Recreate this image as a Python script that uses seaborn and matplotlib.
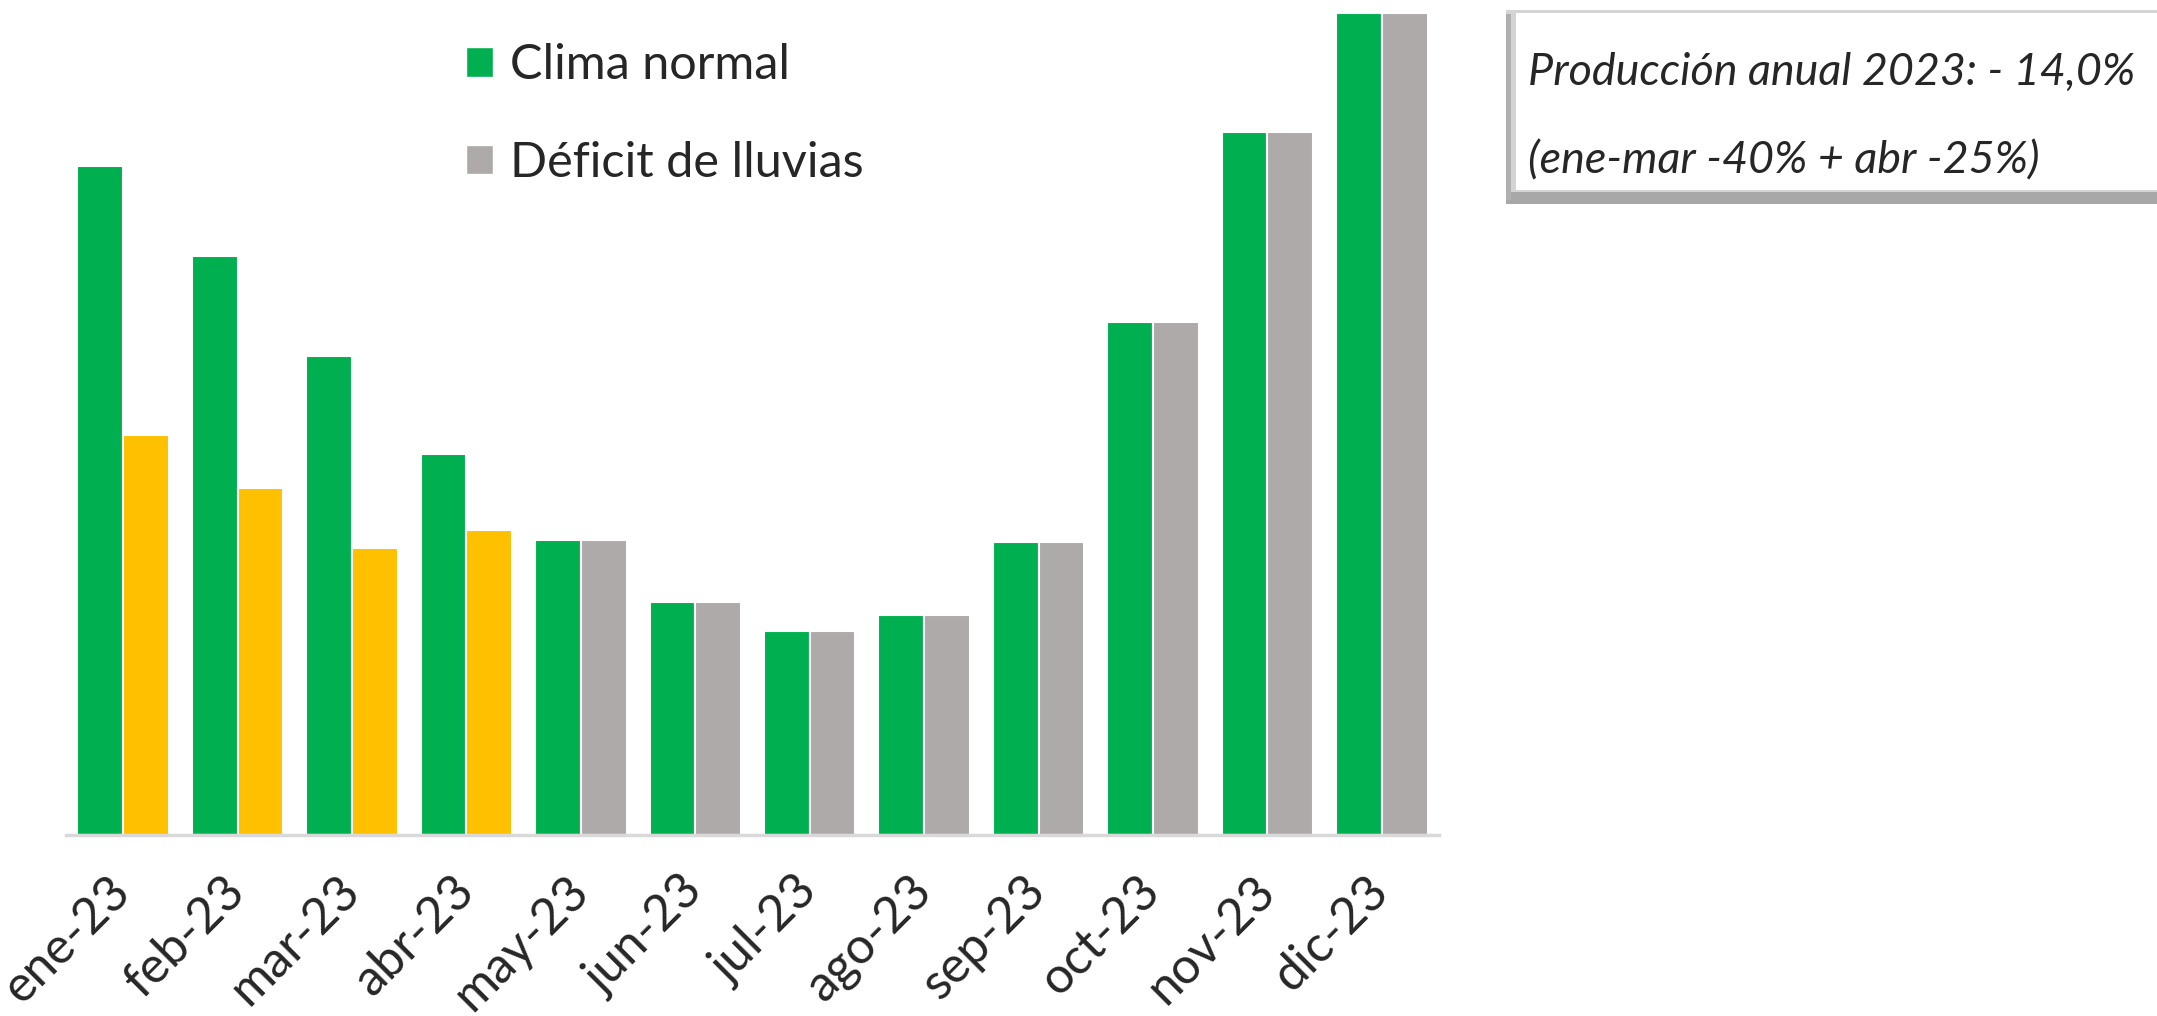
import numpy as np
import pandas as pd
import matplotlib
matplotlib.use('Agg')
import matplotlib.pyplot as plt
import seaborn as sns
from matplotlib.patches import Patch, Rectangle

# datos (unidades relativas)
meses = ['ene-23', 'feb-23', 'mar-23', 'abr-23', 'may-23', 'jun-23',
         'jul-23', 'ago-23', 'sep-23', 'oct-23', 'nov-23', 'dic-23']
clima_normal = [669, 579, 479, 381, 295, 233, 204, 220, 293, 513, 703, 822]
deficit_lluvias = [400, 347, 287, 305, 295, 233, 204, 220, 293, 513, 703, 822]
series = ['Clima normal', 'Déficit de lluvias']
n_sequia = 4  # meses afectados (ene-abr)
nota = ['Producción anual 2023: - 14,0%', '(ene-mar -40% + abr -25%)']

df = pd.DataFrame({
    'Mes': meses * 2,
    'Produccion': clima_normal + deficit_lluvias,
    'Serie': [series[0]] * len(meses) + [series[1]] * len(meses),
})

verde = '#00B050'
gris = '#AEAAAA'
amarillo = '#FFC000'

sns.set_style('white')
plt.rcParams['font.family'] = ['Lato', 'DejaVu Sans']

W, H = 2157, 1016
fig = plt.figure(figsize=(W / 100, H / 100), dpi=100)
ax = fig.add_axes([66 / W, 181 / H, 1373 / W, 823 / H])

sns.barplot(data=df, x='Mes', y='Produccion', hue='Serie',
            palette=[verde, gris], saturation=1, edgecolor='white',
            linewidth=1.5, legend=False, ax=ax)

# los meses con sequia van en amarillo
for i, bar in enumerate(ax.containers[1]):
    if i < n_sequia:
        bar.set_facecolor(amarillo)

ax.set_ylim(0, 823)
ax.set_xlim(-0.5, 11.5)
ax.set_yticks([])
ax.set_xlabel('')
ax.set_ylabel('')
sns.despine(ax=ax, left=True)
ax.spines['bottom'].set_color('#D9D9D9')
ax.spines['bottom'].set_linewidth(2.5)
ax.tick_params(axis='x', length=0, labelsize=36, pad=35)
plt.setp(ax.get_xticklabels(), rotation=45, ha='right', va='center',
         rotation_mode='anchor')

handles = [Patch(facecolor=verde, label=series[0]),
           Patch(facecolor=gris, label=series[1])]
fig.legend(handles=handles, loc='center left',
           bbox_to_anchor=(466 / W, 1 - 114 / H), frameon=False,
           fontsize=35, handlelength=0.56, handleheight=0.56,
           handletextpad=0.35, labelspacing=1.1, borderpad=0,
           borderaxespad=0)

# cuadro de texto con borde biselado
fig.add_artist(Rectangle((1506 / W, 1 - 204 / H), 700 / W, 194 / H,
                         transform=fig.transFigure, facecolor='#D4D4D4',
                         edgecolor='none'))
fig.add_artist(Rectangle((1506 / W, 1 - 204 / H), 700 / W, 12 / H,
                         transform=fig.transFigure, facecolor='#A8A8A8',
                         edgecolor='none'))
fig.add_artist(Rectangle((1506 / W, 1 - 200 / H), 5 / W, 186 / H,
                         transform=fig.transFigure, facecolor='#B0B0B0',
                         edgecolor='none'))
fig.add_artist(Rectangle((1516 / W, 1 - 190 / H), 700 / W, 177 / H,
                         transform=fig.transFigure, facecolor='white',
                         edgecolor='none'))
t1 = fig.text(1528 / W, 1 - 85 / H, nota[0], fontsize=35, style='italic',
              va='baseline', ha='left')
t2 = fig.text(1528 / W, 1 - 173 / H, nota[1], fontsize=35, style='italic',
              va='baseline', ha='left')

# ajustar tamano para que la nota quepa como en el original (~609 px)
fig.canvas.draw()
ancho = t1.get_window_extent().width
fs = 35 * 609 / ancho
t1.set_fontsize(fs)
t2.set_fontsize(fs)

fig.savefig('out.png', dpi=100)
